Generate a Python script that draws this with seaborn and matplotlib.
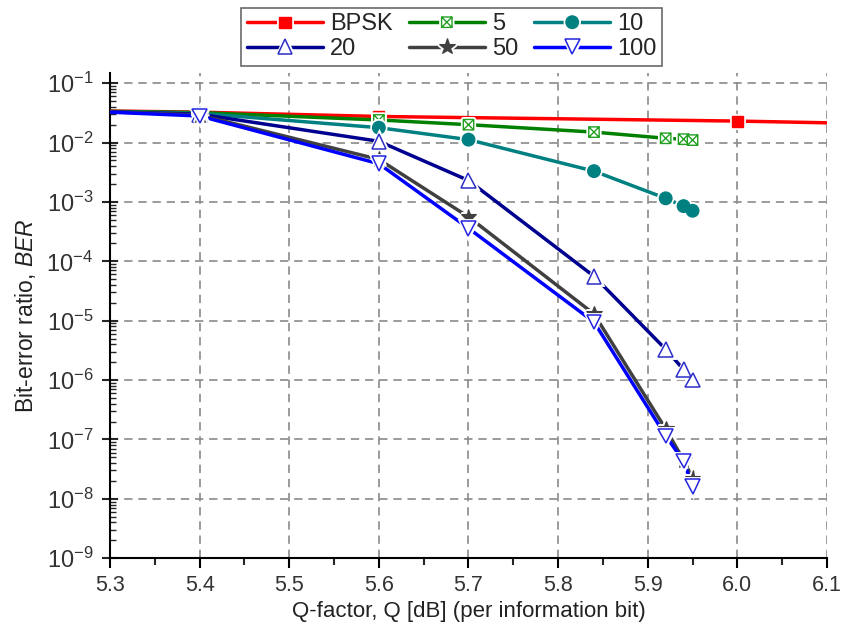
import numpy as np
import pandas as pd
import matplotlib
matplotlib.use("Agg")
import matplotlib.pyplot as plt
import matplotlib.ticker as mticker
import matplotlib.patheffects as pe
from matplotlib.path import Path
from matplotlib.lines import Line2D
import seaborn as sns

# Q-factor points [dB] for the coded curves
q_coded = [5.3, 5.4, 5.6, 5.7, 5.84, 5.92, 5.94, 5.95]
# uncoded BPSK reference
q_bpsk = [5.3, 5.4, 5.6, 6.0, 6.1]
ber_bpsk = [3.4e-2, 3.25e-2, 2.75e-2, 2.3e-2, 2.15e-2]

ber_5 = [3.35e-2, 3.2e-2, 2.4e-2, 2.0e-2, 1.5e-2, 1.18e-2, 1.14e-2, 1.1e-2]
ber_10 = [3.3e-2, 3.1e-2, 1.78e-2, 1.12e-2, 3.3e-3, 1.15e-3, 8.5e-4, 7.1e-4]
ber_20 = [3.3e-2, 3.0e-2, 1.05e-2, 2.3e-3, 5.6e-5, 3.3e-6, 1.5e-6, 1.0e-6]
ber_50 = [3.3e-2, 2.9e-2, 5.2e-3, 5.6e-4, 1.3e-5, 1.5e-7, 4.5e-8, 2.2e-8]
ber_100 = [3.25e-2, 2.8e-2, 4.4e-3, 3.6e-4, 9.5e-6, 1.15e-7, 4.3e-8, 1.6e-8]

labels = ["BPSK", "5", "10", "20", "50", "100"]
y_decades = [1e-9, 1e-8, 1e-7, 1e-6, 1e-5, 1e-4, 1e-3, 1e-2, 1e-1]

# box with a cross inside (marker for "5")
box_x = Path(
    [(-1, -1), (1, -1), (1, 1), (-1, 1), (-1, -1), (-1, -1), (1, 1), (-1, 1), (1, -1)],
    [Path.MOVETO, Path.LINETO, Path.LINETO, Path.LINETO, Path.CLOSEPOLY,
     Path.MOVETO, Path.LINETO, Path.MOVETO, Path.LINETO],
)

styles = {
    "BPSK": dict(color="#ff0000", marker="s", ms=8, mfc="#ff0000", mec="#ff0000", mew=1.0),
    "5": dict(color="#008000", marker=box_x, ms=7.5, mfc="white", mec="#22a022", mew=1.0),
    "10": dict(color="#008080", marker="o", ms=9, mfc="#008080", mec="#008080", mew=1.0),
    "20": dict(color="#000090", marker="^", ms=10.5, mfc="white", mec="#2e2ec8", mew=1.1),
    "50": dict(color="#404040", marker="*", ms=12, mfc="#404040", mec="#404040", mew=0.8),
    "100": dict(color="#0000ff", marker="v", ms=10.5, mfc="white", mec="#2424e0", mew=1.1),
}

frames = [pd.DataFrame({"Q": q_bpsk, "BER": ber_bpsk, "code": "BPSK"})]
for lab, ber in zip(labels[1:], [ber_5, ber_10, ber_20, ber_50, ber_100]):
    frames.append(pd.DataFrame({"Q": q_coded, "BER": ber, "code": lab}))
df = pd.concat(frames, ignore_index=True)

sns.set_style("ticks")
plt.rcParams["font.family"] = ["Liberation Sans", "DejaVu Sans"]
plt.rcParams["mathtext.fontset"] = "custom"
plt.rcParams["mathtext.rm"] = "Liberation Sans"
plt.rcParams["mathtext.it"] = "Liberation Sans:italic"

fig, ax = plt.subplots(figsize=(8.43, 6.3), dpi=100)
fig.subplots_adjust(left=0.1305, right=0.981, bottom=0.114, top=0.884)

halo = [pe.Stroke(linewidth=3.5, foreground="white"), pe.Normal()]

sns.lineplot(data=df, x="Q", y="BER", hue="code", hue_order=labels,
             palette={k: v["color"] for k, v in styles.items()},
             lw=2.5, legend=False, sort=False, ax=ax, zorder=3)

handles = {}
for lab in labels:
    st = styles[lab]
    sub = df[df["code"] == lab]
    if lab == "BPSK":
        sub = sub.iloc[1:4]
    else:
        sub = sub.iloc[1:]
    ax.plot(sub["Q"], sub["BER"], ls="none", marker=st["marker"], ms=st["ms"],
            mfc=st["mfc"], mec=st["mec"], mew=st["mew"], zorder=4,
            path_effects=halo)
    handles[lab] = Line2D([], [], color=st["color"], lw=2.5, marker=st["marker"],
                          ms=st["ms"], mfc=st["mfc"], mec=st["mec"], mew=st["mew"],
                          path_effects=halo)

ax.set_yscale("log")
ax.set_xlim(5.3, 6.1)
ax.set_ylim(1e-9, 10 ** -0.83)
ax.xaxis.set_major_locator(mticker.MultipleLocator(0.1))
ax.xaxis.set_minor_locator(mticker.MultipleLocator(0.05))
ax.xaxis.set_major_formatter(mticker.FormatStrFormatter("%.1f"))
ax.yaxis.set_major_locator(mticker.FixedLocator(y_decades))
ax.yaxis.set_major_formatter(mticker.LogFormatterSciNotation())
ax.yaxis.set_minor_locator(mticker.LogLocator(base=10, subs=np.arange(2, 10), numticks=20))
ax.yaxis.set_minor_formatter(mticker.NullFormatter())

ax.grid(True, which="major", ls=(0, (5, 3.5)), color="#8a8a8a", lw=1.2)
for s in ["top", "right"]:
    ax.spines[s].set_visible(False)
for s in ["left", "bottom"]:
    ax.spines[s].set_linewidth(1.5)
    ax.spines[s].set_color("black")

ax.tick_params(axis="x", which="major", direction="out", length=7, width=1.5,
               labelsize=15.5, colors="black", labelcolor="#333333", pad=5)
ax.tick_params(axis="x", which="minor", direction="out", length=5, width=1.5)
ax.tick_params(axis="y", which="major", direction="inout", length=12, width=1.5,
               labelsize=17, labelcolor="#333333", pad=6)
ax.tick_params(axis="y", which="minor", direction="in", length=4, width=1.0)

ax.set_xlabel("Q-factor, Q [dB] (per information bit)", fontsize=16,
              color="#222222", labelpad=4)
ax.set_ylabel(r"Bit-error ratio, $\mathit{BER}$", fontsize=16.5,
              color="#222222", labelpad=6)

order = ["BPSK", "20", "5", "50", "10", "100"]
leg = fig.legend([handles[k] for k in order], order, ncol=3,
                 loc="upper center", bbox_to_anchor=(0.536, 0.988),
                 fontsize=17, frameon=True, fancybox=False, edgecolor="#444444",
                 handlelength=3.2, handletextpad=0.3, columnspacing=0.7,
                 borderpad=0.25, labelspacing=0.1, borderaxespad=0)
leg.get_frame().set_linewidth(1.2)

fig.savefig("out.png", dpi=100)
